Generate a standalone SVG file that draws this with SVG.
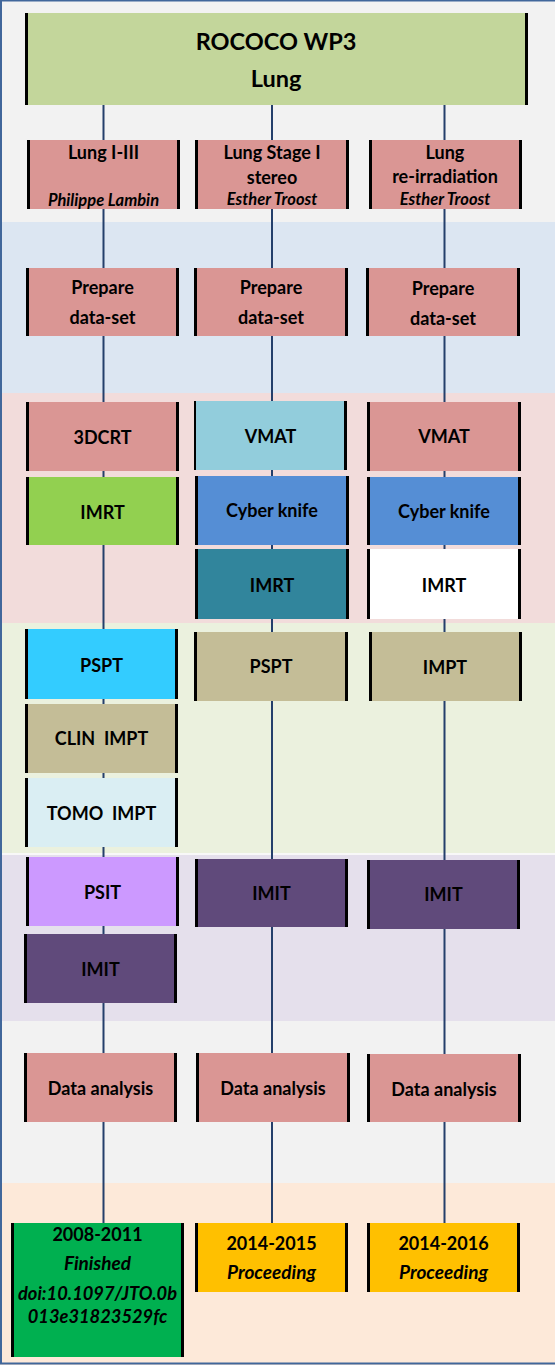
<svg xmlns="http://www.w3.org/2000/svg" width="555" height="1365" viewBox="0 0 555 1365">
<style>
.bar{fill:#000}
.t{font-family:Lato,"Liberation Sans",sans-serif;font-weight:bold;font-size:18px;fill:#000;text-anchor:middle}
.ti{font-family:Lato,"Liberation Sans",sans-serif;font-weight:bold;font-style:italic;font-size:16.5px;fill:#000;text-anchor:middle}
.tb{font-family:Lato,"Liberation Sans",sans-serif;font-weight:bold;font-style:italic;font-size:19px;fill:#000;text-anchor:middle}
.td{font-family:Lato,"Liberation Sans",sans-serif;font-weight:bold;font-style:italic;font-size:18.3px;fill:#000;text-anchor:middle}
.title{font-family:Lato,"Liberation Sans",sans-serif;font-weight:bold;font-size:23.5px;fill:#000;text-anchor:middle}
.conn{stroke:#243f6b;stroke-width:2;fill:none}
</style>
<g id="background">
<rect x="0" y="0" width="555" height="222" fill="#f2f2f2"/>
<rect x="0" y="222" width="555" height="171" fill="#dce6f2"/>
<rect x="0" y="393" width="555" height="230" fill="#f2dcdb"/>
<rect x="0" y="623" width="555" height="230" fill="#ebf1de"/>
<rect x="0" y="853" width="555" height="2" fill="#f8f8f8"/>
<rect x="0" y="855" width="555" height="166" fill="#e5e0ec"/>
<rect x="0" y="1021" width="555" height="162" fill="#f2f2f2"/>
<rect x="0" y="1183" width="555" height="182" fill="#fde9d9"/>
<rect x="1" y="0.5" width="560" height="1363" fill="none" stroke="#41679b" stroke-width="2"/>
</g>
<g id="connectors">
<line class="conn" x1="103.5" y1="105" x2="103.5" y2="1223"/>
<line class="conn" x1="272" y1="105" x2="272" y2="1223"/>
<line class="conn" x1="444.5" y1="105" x2="444.5" y2="1223" stroke-width="2.5"/>
</g>
<g id="n-top">
<rect x="25" y="13" width="503" height="92" fill="#c3d69b"/>
<rect class="bar" x="25" y="13" width="3" height="92"/><rect class="bar" x="525" y="13" width="3" height="92"/>
<text class="title" x="276" y="50">ROCOCO WP3</text>
<text class="title" x="276" y="87">Lung</text>
</g>
<g id="n-lung13">
<rect x="27" y="140" width="153" height="69" fill="#da9694"/>
<rect class="bar" x="27" y="140" width="3" height="69"/><rect class="bar" x="177" y="140" width="3" height="69"/>
<text class="t" x="103.5" y="159">Lung I-III</text>
<text class="ti" x="103.5" y="206">Philippe Lambin</text>
</g>
<g id="n-stage1">
<rect x="195" y="140" width="154" height="69" fill="#da9694"/>
<rect class="bar" x="195" y="140" width="3" height="69"/><rect class="bar" x="346" y="140" width="3" height="69"/>
<text class="t" x="272" y="159">Lung Stage I</text>
<text class="t" x="272" y="184">stereo</text>
<text class="ti" x="272" y="205">Esther Troost</text>
</g>
<g id="n-reirr">
<rect x="369" y="140" width="153" height="69" fill="#da9694"/>
<rect class="bar" x="369" y="140" width="3" height="69"/><rect class="bar" x="519" y="140" width="3" height="69"/>
<text class="t" x="445" y="159">Lung</text>
<text class="t" x="445" y="183">re-irradiation</text>
<text class="ti" x="445" y="205">Esther Troost</text>
</g>
<g id="n-prep1">
<rect x="26" y="268" width="153" height="68" fill="#da9694"/>
<rect class="bar" x="26" y="268" width="3" height="68"/><rect class="bar" x="176" y="268" width="3" height="68"/>
<text class="t" x="102.5" y="294">Prepare</text>
<text class="t" x="102.5" y="324">data-set</text>
</g>
<g id="n-prep2">
<rect x="194" y="268" width="154" height="68" fill="#da9694"/>
<rect class="bar" x="194" y="268" width="3" height="68"/><rect class="bar" x="345" y="268" width="3" height="68"/>
<text class="t" x="271" y="294">Prepare</text>
<text class="t" x="271" y="324">data-set</text>
</g>
<g id="n-prep3">
<rect x="366" y="268" width="154" height="68" fill="#da9694"/>
<rect class="bar" x="366" y="268" width="3" height="68"/><rect class="bar" x="517" y="268" width="3" height="68"/>
<text class="t" x="443" y="295">Prepare</text>
<text class="t" x="443" y="325">data-set</text>
</g>
<g id="n-3dcrt">
<rect x="26" y="402" width="153" height="69" fill="#da9694"/>
<rect class="bar" x="26" y="402" width="3" height="69"/><rect class="bar" x="176" y="402" width="3" height="69"/>
<text class="t" x="102.5" y="443.5">3DCRT</text>
</g>
<g id="n-imrt1">
<rect x="26" y="477" width="153" height="68" fill="#92d050"/>
<rect class="bar" x="26" y="477" width="3" height="68"/><rect class="bar" x="176" y="477" width="3" height="68"/>
<text class="t" x="102.5" y="518.5">IMRT</text>
</g>
<g id="n-vmat2">
<rect x="194" y="401" width="153" height="69" fill="#92cddc"/>
<rect class="bar" x="194" y="401" width="2" height="69"/><rect class="bar" x="344" y="401" width="3" height="69"/>
<text class="t" x="270.5" y="442.5">VMAT</text>
</g>
<g id="n-cyber2">
<rect x="195" y="476" width="154" height="69" fill="#558ed5"/>
<rect class="bar" x="195" y="476" width="3" height="69"/><rect class="bar" x="346" y="476" width="3" height="69"/>
<text class="t" x="272" y="517">Cyber knife</text>
</g>
<g id="n-imrt2">
<rect x="195" y="549" width="154" height="70" fill="#31859c"/>
<rect class="bar" x="195" y="549" width="3" height="70"/><rect class="bar" x="346" y="549" width="3" height="70"/>
<text class="t" x="272" y="592">IMRT</text>
</g>
<g id="n-vmat3">
<rect x="367" y="402" width="154" height="69" fill="#da9694"/>
<rect class="bar" x="367" y="402" width="3" height="69"/><rect class="bar" x="518" y="402" width="3" height="69"/>
<text class="t" x="444" y="443">VMAT</text>
</g>
<g id="n-cyber3">
<rect x="367" y="477" width="154" height="68" fill="#558ed5"/>
<rect class="bar" x="367" y="477" width="3" height="68"/><rect class="bar" x="518" y="477" width="3" height="68"/>
<text class="t" x="444" y="518">Cyber knife</text>
</g>
<g id="n-imrt3">
<rect x="367" y="549" width="154" height="70" fill="#ffffff"/>
<rect class="bar" x="367" y="549" width="3" height="70"/><rect class="bar" x="518" y="549" width="3" height="70"/>
<text class="t" x="444" y="591.5">IMRT</text>
</g>
<g id="n-pspt1">
<rect x="25" y="629" width="153" height="70" fill="#33ccff"/>
<rect class="bar" x="25" y="629" width="3" height="70"/><rect class="bar" x="175" y="629" width="3" height="70"/>
<text class="t" x="101.5" y="672">PSPT</text>
</g>
<g id="n-pspt2">
<rect x="194" y="632" width="154" height="69" fill="#c4bd97"/>
<rect class="bar" x="194" y="632" width="3" height="69"/><rect class="bar" x="345" y="632" width="3" height="69"/>
<text class="t" x="271" y="673">PSPT</text>
</g>
<g id="n-impt3">
<rect x="369" y="632" width="153" height="69" fill="#c4bd97"/>
<rect class="bar" x="369" y="632" width="3" height="69"/><rect class="bar" x="519" y="632" width="3" height="69"/>
<text class="t" x="445" y="674">IMPT</text>
</g>
<g id="n-clin">
<rect x="25" y="704" width="153" height="69" fill="#c4bd97"/>
<rect class="bar" x="25" y="704" width="3" height="69"/><rect class="bar" x="175" y="704" width="3" height="69"/>
<text class="t" x="101.5" y="745" xml:space="preserve">CLIN  IMPT</text>
</g>
<g id="n-tomo">
<rect x="25" y="778" width="153" height="69" fill="#daeef3"/>
<rect class="bar" x="25" y="778" width="3" height="69"/><rect class="bar" x="175" y="778" width="3" height="69"/>
<text class="t" x="101.5" y="820" xml:space="preserve">TOMO  IMPT</text>
</g>
<g id="n-psit">
<rect x="26" y="857" width="153" height="69" fill="#cc99ff"/>
<rect class="bar" x="26" y="857" width="3" height="69"/><rect class="bar" x="176" y="857" width="3" height="69"/>
<text class="t" x="102.5" y="899">PSIT</text>
</g>
<g id="n-imit1">
<rect x="24" y="934" width="153" height="69" fill="#604a7b"/>
<rect class="bar" x="24" y="934" width="3" height="69"/><rect class="bar" x="174" y="934" width="3" height="69"/>
<text class="t" x="100.5" y="976">IMIT</text>
</g>
<g id="n-imit2">
<rect x="195" y="859" width="153" height="68" fill="#604a7b"/>
<rect class="bar" x="195" y="859" width="3" height="68"/><rect class="bar" x="345" y="859" width="3" height="68"/>
<text class="t" x="271.5" y="900">IMIT</text>
</g>
<g id="n-imit3">
<rect x="367" y="860" width="153" height="69" fill="#604a7b"/>
<rect class="bar" x="367" y="860" width="3" height="69"/><rect class="bar" x="517" y="860" width="3" height="69"/>
<text class="t" x="443.5" y="901">IMIT</text>
</g>
<g id="n-da1">
<rect x="24" y="1053" width="153" height="69" fill="#da9694"/>
<rect class="bar" x="24" y="1053" width="3" height="69"/><rect class="bar" x="174" y="1053" width="3" height="69"/>
<text class="t" x="100.5" y="1095">Data analysis</text>
</g>
<g id="n-da2">
<rect x="196" y="1053" width="154" height="69" fill="#da9694"/>
<rect class="bar" x="196" y="1053" width="3" height="69"/><rect class="bar" x="347" y="1053" width="3" height="69"/>
<text class="t" x="273" y="1095">Data analysis</text>
</g>
<g id="n-da3">
<rect x="367" y="1054" width="154" height="68" fill="#da9694"/>
<rect class="bar" x="367" y="1054" width="3" height="68"/><rect class="bar" x="518" y="1054" width="3" height="68"/>
<text class="t" x="444" y="1096">Data analysis</text>
</g>
<g id="n-end1">
<rect x="11" y="1223" width="173" height="134" fill="#00b050"/>
<rect class="bar" x="11" y="1223" width="3" height="134"/><rect class="bar" x="181" y="1223" width="3" height="134"/>
<text class="t" x="97.5" y="1241">2008-2011</text>
<text class="tb" x="97.5" y="1270">Finished</text>
<text class="td" x="97.5" y="1300">doi:10.1097/JTO.0b</text>
<text class="td" x="97.5" y="1323">013e31823529fc</text>
</g>
<g id="n-end2">
<rect x="195" y="1223" width="153" height="69" fill="#ffc000"/>
<rect class="bar" x="195" y="1223" width="3" height="69"/><rect class="bar" x="345" y="1223" width="3" height="69"/>
<text class="t" x="271.5" y="1250">2014-2015</text>
<text class="tb" x="271.5" y="1279">Proceeding</text>
</g>
<g id="n-end3">
<rect x="367" y="1223" width="153" height="69" fill="#ffc000"/>
<rect class="bar" x="367" y="1223" width="3" height="69"/><rect class="bar" x="517" y="1223" width="3" height="69"/>
<text class="t" x="443.5" y="1250">2014-2016</text>
<text class="tb" x="443.5" y="1279">Proceeding</text>
</g>
</svg>
